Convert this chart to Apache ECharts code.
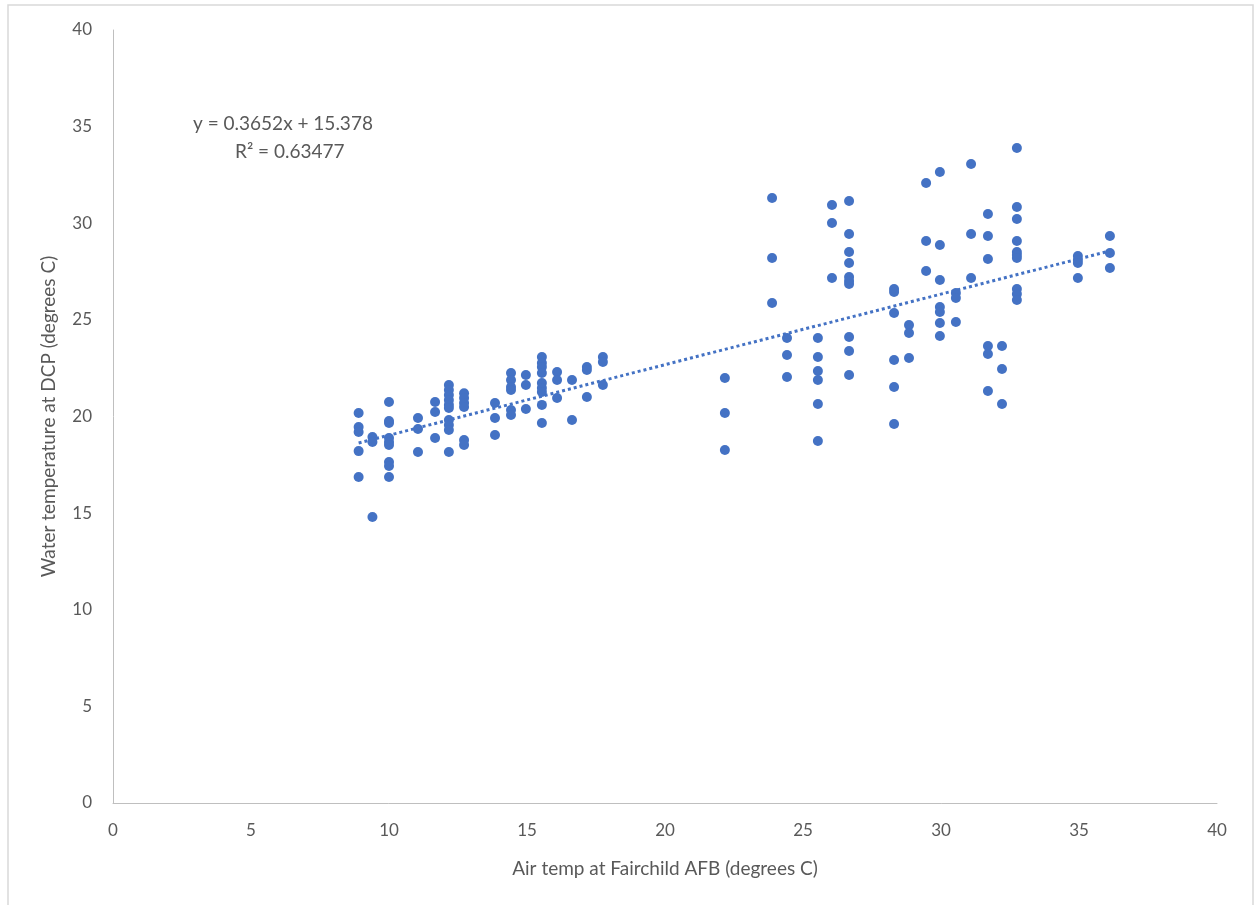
<!DOCTYPE html>
<html>
<head>
<meta charset="utf-8">
<script src="https://cdn.jsdelivr.net/npm/echarts@6/dist/echarts.min.js"></script>
<style>
  html, body { margin: 0; padding: 0; background: #fff; }
  #chart { width: 1260px; height: 905px; }
</style>
</head>
<body>
<div id="chart"></div>
<script>
// air temp (x) columns and the water temps (y) read for each column
var airTemps = [8.9, 9.4, 10.0, 11.05, 11.67, 12.17, 12.72, 13.84, 14.42, 14.96, 15.54, 16.09, 16.63, 17.17, 17.75,
  22.17, 23.88, 24.42, 25.54, 26.05, 26.67, 28.3, 28.84, 29.46, 29.96, 30.54, 31.09, 31.7, 32.21, 32.75, 34.96, 36.12];
var waterTemps = [
  [20.18, 19.46, 19.2, 18.21, 16.87],
  [18.94, 18.68, 14.8],
  [20.75, 19.77, 19.66, 18.89, 18.68, 18.53, 17.65, 17.44, 16.87],
  [19.92, 19.35, 18.16],
  [20.75, 20.23, 18.89],
  [21.63, 21.37, 21.11, 20.85, 20.6, 20.44, 19.82, 19.56, 19.3, 18.16],
  [21.2, 20.96, 20.7, 20.49, 18.78, 18.53],
  [20.7, 19.92, 19.04],
  [22.25, 21.89, 21.53, 21.37, 20.34, 20.08],
  [22.15, 21.63, 20.39],
  [23.08, 22.77, 22.56, 22.25, 21.73, 21.47, 21.27, 20.6, 19.66],
  [22.3, 21.89, 20.96],
  [21.89, 19.82],
  [22.56, 22.41, 21.01],
  [23.08, 22.82, 21.63],
  [21.99, 20.18, 18.27],
  [31.31, 28.2, 25.87],
  [24.06, 23.18, 22.04],
  [24.06, 23.08, 22.35, 21.89, 20.65, 18.73],
  [30.94, 30.01, 27.17],
  [31.15, 29.44, 28.51, 27.94, 27.22, 27.01, 26.86, 24.11, 23.39, 22.15],
  [26.6, 26.44, 25.36, 22.92, 21.53, 19.61],
  [24.73, 24.32, 23.03],
  [32.08, 29.08, 27.53],
  [32.65, 28.87, 27.06, 25.67, 25.41, 24.84, 24.17],
  [26.39, 26.13, 24.89],
  [33.07, 29.44, 27.17],
  [30.48, 29.34, 28.15, 23.65, 23.23, 21.32],
  [23.65, 22.46, 20.65],
  [33.89, 30.84, 30.22, 29.08, 28.51, 28.36, 28.2, 26.6, 26.34, 26.03],
  [28.3, 28.1, 27.94, 27.17],
  [29.34, 28.46, 27.68]
];
var slope = 0.3652;
var intercept = 15.378;
var rSquared = '0.63477';

var points = [];
airTemps.forEach(function (x, i) {
  waterTemps[i].forEach(function (y) { points.push([x, y]); });
});
var xMin = airTemps[0], xMax = airTemps[airTemps.length - 1];
var trend = [[xMin, slope * xMin + intercept], [xMax, slope * xMax + intercept]];

var blue = '#4472C4';
var grey = '#595959';
var font = 'Lato';

var myChart = echarts.init(document.getElementById('chart'));
myChart.setOption({
  backgroundColor: '#fff',
  animation: false,
  grid: { left: 113, right: 43, top: 30, bottom: 102 },
  xAxis: {
    type: 'value', min: 0, max: 40, interval: 5,
    name: 'Air temp at Fairchild AFB (degrees C)',
    nameLocation: 'middle', nameGap: 56,
    nameTextStyle: { color: grey, fontSize: 19, fontFamily: font },
    axisLine: { lineStyle: { color: '#bfbfbf', width: 1 } },
    axisTick: { show: false },
    splitLine: { show: false },
    axisLabel: { color: grey, fontSize: 17, fontFamily: font, margin: 19 }
  },
  yAxis: {
    type: 'value', min: 0, max: 40, interval: 5,
    name: 'Water temperature at DCP (degrees C)',
    nameLocation: 'middle', nameGap: 55,
    nameTextStyle: { color: grey, fontSize: 19, fontFamily: font },
    axisLine: { show: true, lineStyle: { color: '#bfbfbf', width: 1 } },
    axisTick: { show: false },
    splitLine: { show: false },
    axisLabel: { color: grey, fontSize: 17, fontFamily: font, margin: 21 }
  },
  graphic: [
    { type: 'rect', shape: { x: 8, y: 5, width: 1245, height: 920 },
      style: { fill: 'none', stroke: '#d9d9d9', lineWidth: 1.5 }, silent: true },
    { type: 'text', left: 193, top: 114,
      style: { text: 'y = 0.3652x + 15.378', fill: grey, fontSize: 19, fontFamily: font } },
    { type: 'text', left: 235, top: 142,
      style: { text: 'R² = ' + rSquared, fill: grey, fontSize: 19, fontFamily: font } }
  ],
  series: [
    {
      type: 'line', data: trend, symbol: 'none', z: 1,
      lineStyle: { color: blue, width: 3, type: [3, 3] }
    },
    {
      type: 'scatter', data: points, symbol: 'circle', symbolSize: 10, z: 2,
      itemStyle: { color: blue, opacity: 1 }
    }
  ]
});
</script>
</body>
</html>
